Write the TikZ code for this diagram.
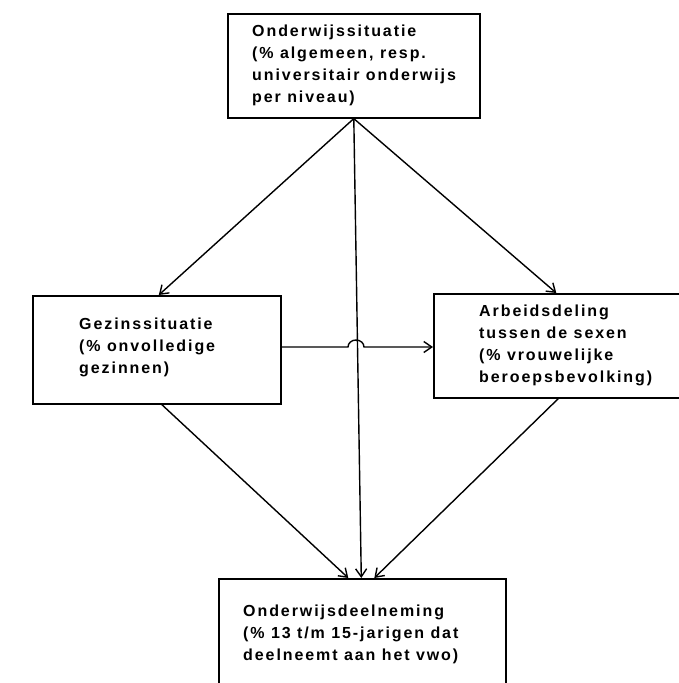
\documentclass[tikz,border=0pt]{standalone}
\usepackage{fontspec}
\setmainfont{Liberation Sans}[LetterSpace=12]
\usetikzlibrary{arrows.meta,calc}
\tikzset{
  box/.style={draw, line width=1.6pt, rectangle, inner sep=0pt, anchor=north west},
  txt/.style={anchor=west, align=left, inner sep=0pt, font=\fontsize{16}{22}\selectfont\bfseries},
  arr/.style={line width=1.4pt, -{Straight Barb[length=8pt,width=11pt,line width=1.4pt]}},
}
\begin{document}
\begin{tikzpicture}[x=1pt,y=-1pt]
\useasboundingbox (0,0) rectangle (679,683);
\clip (0,0) rectangle (679,683);
\node[box, minimum width=252pt, minimum height=104pt] (top) at (227,13) {};
\node[box, minimum width=248pt, minimum height=108pt] (left) at (32,295) {};
\node[box, minimum width=267pt, minimum height=104pt] (right) at (433,293) {};
\node[box, minimum width=287pt, minimum height=112pt] (bot) at (218,578) {};
\node[txt] (topt) at ([xshift=25pt]top.west) {Onderwijssituatie\\(\% algemeen, resp.\\universitair onderwijs\\per niveau)};
\node[txt] (leftt) at ([xshift=47pt,yshift=2pt]left.west) {Gezinssituatie\\(\% onvolledige\\gezinnen)};
\node[txt] (rightt) at ([xshift=46pt]right.west) {Arbeidsdeling\\tussen de sexen\\(\% vrouwelijke\\beroepsbevolking)};
\node[txt] (bott) at ([xshift=25pt]bot.west) {Onderwijsdeelneming\\(\% 13 t/m 15-jarigen dat\\deelneemt aan het vwo)};
\coordinate (lt) at ([xshift=2pt]left.north);
\coordinate (rt) at ([xshift=-11pt]right.north);
\coordinate (lb) at ([xshift=5pt]left.south);
\coordinate (rb) at ([xshift=-9pt]right.south);
\draw[arr] (top.south) -- (lt);
\draw[arr] (top.south) -- (rt);
\draw[arr] (top.south) -- ([xshift=-1pt]bot.north);
\draw[arr] (lb) -- ([xshift=-14pt]bot.north);
\draw[arr] (rb) -- ([xshift=12pt]bot.north);
\coordinate (jc) at (356,347);
\draw[arr] (left.east |- jc) -- ($(jc)+(-8,0)$) arc[start angle=180,end angle=360,x radius=8,y radius=7] -- (right.west |- jc);
\end{tikzpicture}
\end{document}
